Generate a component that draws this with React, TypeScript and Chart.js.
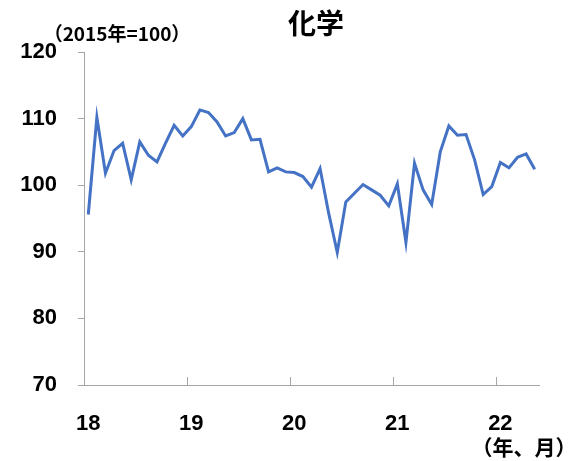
import React, { useEffect, useRef } from "react";
import { Chart, registerables } from "chart.js";

Chart.register(...registerables);

const years = ["18", "19", "20", "21", "22"];
const months = ["1", "2", "3", "4", "5", "6", "7", "8", "9", "10", "11", "12"];
const categories: string[] = [];
for (const y of years) for (const m of months) categories.push(`${y}-${m}`);
const labels = categories.slice(0, 53);

const chemValues = [
  95.6, 110.2, 101.8, 105.2, 106.3, 100.8, 106.5, 104.5, 103.5, 106.3, 109.0, 107.4,
  108.8, 111.3, 110.9, 109.5, 107.4, 107.9, 110.0, 106.8, 106.9, 102.0, 102.6, 102.0,
  101.9, 101.3, 99.7, 102.5, 95.8, 89.9, 97.5, 98.8, 100.1, 99.3, 98.5, 96.9,
  100.2, 91.4, 103.3, 99.3, 97.1, 105.0, 108.9, 107.5, 107.6, 103.8, 98.6, 99.8,
  103.4, 102.6, 104.2, 104.7, 102.4,
];

const yTicks = [70, 80, 90, 100, 110, 120];
const titleText = "化学";
const unitText = "（2015年=100）";
const axisUnitText = "（年、月）";

const textPlugin = {
  id: "extraTexts",
  afterDraw(chart: any) {
    const ctx = chart.ctx;
    const x = chart.scales.x;
    const area = chart.chartArea;
    ctx.save();
    ctx.strokeStyle = "#a6a6a6";
    ctx.lineWidth = 1;
    const half = (x.getPixelForValue(1) - x.getPixelForValue(0)) / 2;
    for (let i = 0; i < labels.length; i += 12) {
      const px = Math.round(x.getPixelForValue(i) - half) + 0.5;
      ctx.beginPath();
      ctx.moveTo(px, area.bottom);
      ctx.lineTo(px, area.bottom - 8);
      ctx.stroke();
    }
    ctx.fillStyle = "#000";
    ctx.textAlign = "center";
    ctx.textBaseline = "middle";
    ctx.font = "bold 28px 'Noto Sans CJK JP'";
    ctx.fillText(titleText, 316, 23);
    ctx.font = "bold 19px 'Noto Sans CJK JP'";
    ctx.fillText(unitText, 117, 34);
    ctx.font = "bold 21px 'Noto Sans CJK JP'";
    ctx.fillText(axisUnitText, 524, 447);
    ctx.restore();
  },
};

export default function App() {
  const ref = useRef<HTMLCanvasElement>(null);
  useEffect(() => {
    if (!ref.current) return;
    const chart = new Chart(ref.current, {
      type: "line",
      data: {
        labels,
        datasets: [
          {
            data: chemValues,
            borderColor: "#4472C4",
            borderWidth: 3,
            pointRadius: 0,
            tension: 0,
            fill: false,
          },
        ],
      },
      options: {
        animation: false,
        responsive: true,
        maintainAspectRatio: false,
        layout: { padding: { left: 0, right: 29, top: 52, bottom: 0 } },
        plugins: { legend: { display: false }, title: { display: false }, tooltip: { enabled: false } },
        scales: {
          x: {
            type: "category",
            offset: true,
            afterFit(scale: any) {
              scale.height = 76;
            },
            grid: { display: false, drawOnChartArea: false, drawTicks: false },
            border: { display: true, color: "#a6a6a6", width: 1 },
            ticks: {
              autoSkip: false,
              maxRotation: 0,
              padding: 26,
              color: "#000",
              font: { family: "'Liberation Sans'", size: 22, weight: "bold" },
              callback: (_v: any, i: number) => (i % 12 === 0 ? years[i / 12] : ""),
            },
          },
          y: {
            min: yTicks[0],
            max: yTicks[yTicks.length - 1],
            afterFit(scale: any) {
              scale.width = 84;
            },
            afterBuildTicks(scale: any) {
              scale.ticks = yTicks.map((v) => ({ value: v }));
            },
            grid: { drawOnChartArea: false, drawTicks: true, tickLength: 6, color: "#a6a6a6" },
            border: { display: true, color: "#a6a6a6", width: 1 },
            ticks: {
              padding: 21,
              color: "#000",
              font: { family: "'Liberation Sans'", size: 22, weight: "bold" },
            },
          },
        },
      },
      plugins: [textPlugin],
    });
    return () => chart.destroy();
  }, []);
  return (
    <div style={{ position: "absolute", left: 0, top: 0, width: 568, height: 461 }}>
      <canvas ref={ref} />
    </div>
  );
}
